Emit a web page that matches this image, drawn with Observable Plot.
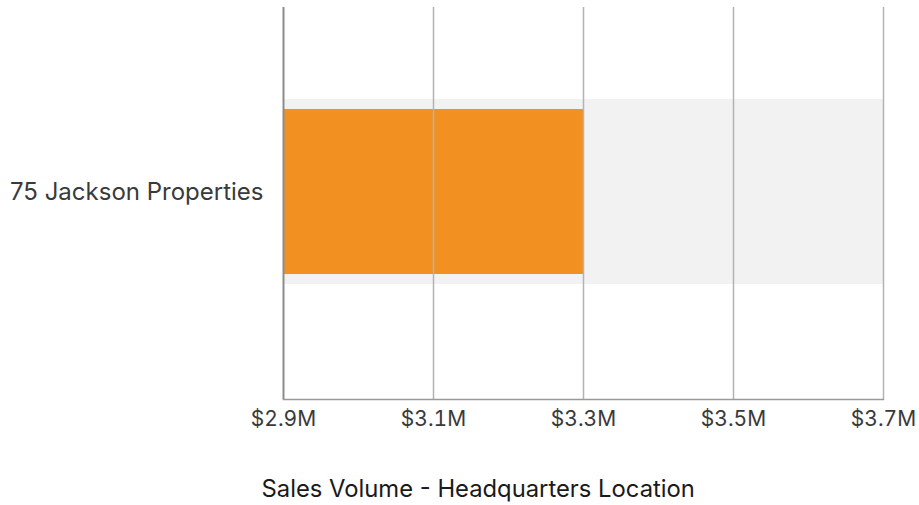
<!DOCTYPE html>
<html>
<head>
<meta charset="utf-8">
<script src="https://cdn.jsdelivr.net/npm/d3@7"></script>
<script src="https://cdn.jsdelivr.net/npm/@observablehq/plot@0.6"></script>
<style>
  html, body { margin: 0; padding: 0; background: #fff; }
  #chart svg { display: block; }
</style>
</head>
<body>
<div id="chart"></div>
<script>
const categories = ["75 Jackson Properties"];
const salesVolume = [3.3e6];
const xTicks = [2.9e6, 3.1e6, 3.3e6, 3.5e6, 3.7e6];
const axisTitle = "Sales Volume - Headquarters Location";

const data = categories.map((c, i) => ({name: c, value: salesVolume[i]}));
const xMin = xTicks[0], xMax = xTicks[xTicks.length - 1];
const fmt = d => "$" + (d / 1e6).toFixed(1) + "M";
const font = "Inter, 'Noto Sans', sans-serif";

const chart = Plot.plot({
  width: 919,
  height: 505,
  marginLeft: 283,
  marginRight: 36,
  marginTop: 7,
  marginBottom: 106,
  style: {fontFamily: font, color: "#3a3a3a", background: "#fff"},
  x: {domain: [xMin, xMax], ticks: xTicks, tickFormat: fmt, label: null},
  y: {domain: categories, range: [7, 376], padding: 0.332, label: null},
  marks: [
    Plot.barX(data, {y: "name", x1: () => xMin, x2: () => xMax, fill: "#f2f2f2"}),
    Plot.barX(data, {y: "name", x1: () => xMin, x2: "value", fill: "#f29022", insetTop: 10, insetBottom: 10}),
    Plot.ruleX(xTicks.slice(1), {stroke: "#b3b3b3", strokeWidth: 1.5}),
    Plot.ruleX([xMin], {stroke: "#8c8c8c", strokeWidth: 2}),
    Plot.frame({anchor: "bottom", stroke: "#999", strokeWidth: 1.5}),
    Plot.axisX({ticks: xTicks, tickFormat: fmt, tickSize: 0, tickPadding: 12, fontSize: 21, fill: "#3a3a3a", label: null}),
    Plot.axisY({tickSize: 0, tickPadding: 20, fontSize: 24, fill: "#3a3a3a", label: null}),
    Plot.text([axisTitle], {frameAnchor: "bottom-left", dx: -22, dy: 97, textAnchor: "start", fontSize: 23.8, fill: "#1a1a1a"})
  ]
});
document.getElementById("chart").appendChild(chart);
</script>
</body>
</html>
